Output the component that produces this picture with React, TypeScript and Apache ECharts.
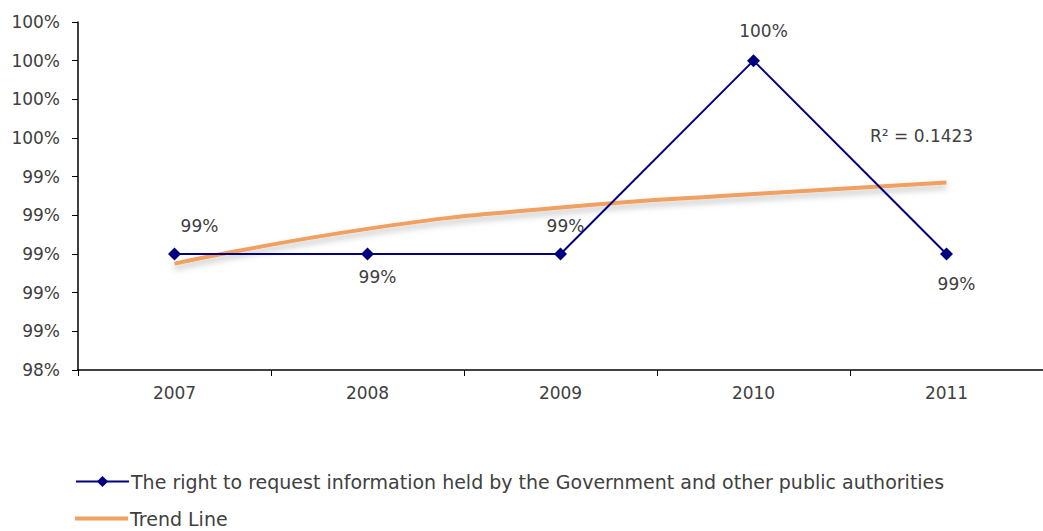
import React, { useEffect, useRef } from "react";
import * as echarts from "echarts";

const categories = ["2007", "2008", "2009", "2010", "2011"];
const seriesValues = [99.0, 99.0, 99.0, 100.0, 99.0];
const trendValues = [98.95, 99.13, 99.24, 99.31, 99.37];
const seriesName = "The right to request information held by the Government and other public authorities";
const trendName = "Trend Line";
const rSquaredText = "R² = 0.1423";

const FONT = "DejaVu Sans";
const TXT = "#404040";
const BLUE = "#000080";
const ORANGE = "#F0A060";

export default function App() {
  const ref = useRef<HTMLDivElement>(null);
  useEffect(() => {
    document.body.style.margin = "0";
    const chart = echarts.init(ref.current!, null, { renderer: "svg" });
    const labelOffsets: [number, number, string][] = [
      [25, 0, "top"],
      [10, -5, "bottom"],
      [5, 0, "top"],
      [10, -2, "top"],
      [10, 2, "bottom"],
    ];
    chart.setOption({
      animation: false,
      backgroundColor: "#ffffff",
      textStyle: { fontFamily: FONT },
      grid: { left: 78, top: 22, width: 971, height: 348 },
      xAxis: {
        type: "category",
        data: categories,
        boundaryGap: true,
        axisLine: { lineStyle: { color: "#000", width: 1.5 } },
        axisTick: { show: true, length: 6, lineStyle: { color: "#000" } },
        axisLabel: { color: TXT, fontSize: 17, fontFamily: FONT, margin: 14 },
      },
      yAxis: {
        type: "value",
        min: 98.4,
        max: 100.2,
        interval: 0.2,
        axisLine: { show: true, lineStyle: { color: "#000", width: 1.5 } },
        axisTick: { show: true, length: 6, lineStyle: { color: "#000" } },
        splitLine: { show: false },
        axisLabel: {
          color: TXT,
          fontSize: 17,
          fontFamily: FONT,
          margin: 18,
          formatter: (v: number) => Math.round(v) + "%",
        },
      },
      legend: [
        {
          left: 75,
          top: 472,
          padding: 0,
          itemWidth: 53,
          itemHeight: 14,
          textStyle: { color: TXT, fontSize: 19, fontFamily: FONT, padding: [0, 0, 0, -3] },
          data: [seriesName],
        },
        {
          left: 75,
          top: 509,
          padding: 0,
          itemWidth: 53,
          itemHeight: 4,
          textStyle: { color: TXT, fontSize: 19, fontFamily: FONT, padding: [0, 0, 0, -3] },
          data: [{ name: trendName, icon: "rect" }],
        },
      ],
      series: [
        {
          name: seriesName,
          type: "line",
          data: seriesValues.map((v, i) => ({
            value: v,
            label: {
              show: true,
              position: labelOffsets[i][2],
              offset: [labelOffsets[i][0], labelOffsets[i][1]],
              distance: 13,
              formatter: (p: any) => Math.round(p.value) + "%",
              color: TXT,
              fontSize: 17,
              fontFamily: FONT,
            },
          })),
          symbol: "diamond",
          symbolSize: 13,
          itemStyle: { color: BLUE },
          lineStyle: { color: BLUE, width: 2 },
          z: 3,
        },
        {
          name: trendName,
          type: "line",
          data: trendValues,
          smooth: true,
          symbol: "none",
          lineStyle: {
            color: ORANGE,
            width: 4,
            shadowColor: "rgba(0,0,0,0.25)",
            shadowBlur: 6,
            shadowOffsetY: 4,
          },
          itemStyle: { color: ORANGE },
          z: 2,
        },
      ],
      graphic: [
        {
          type: "text",
          left: 870,
          top: 127,
          style: { text: rSquaredText, fill: TXT, fontSize: 17, fontFamily: FONT },
        },
      ],
    });
    return () => chart.dispose();
  }, []);
  return <div ref={ref} style={{ width: 1043, height: 531 }} />;
}
